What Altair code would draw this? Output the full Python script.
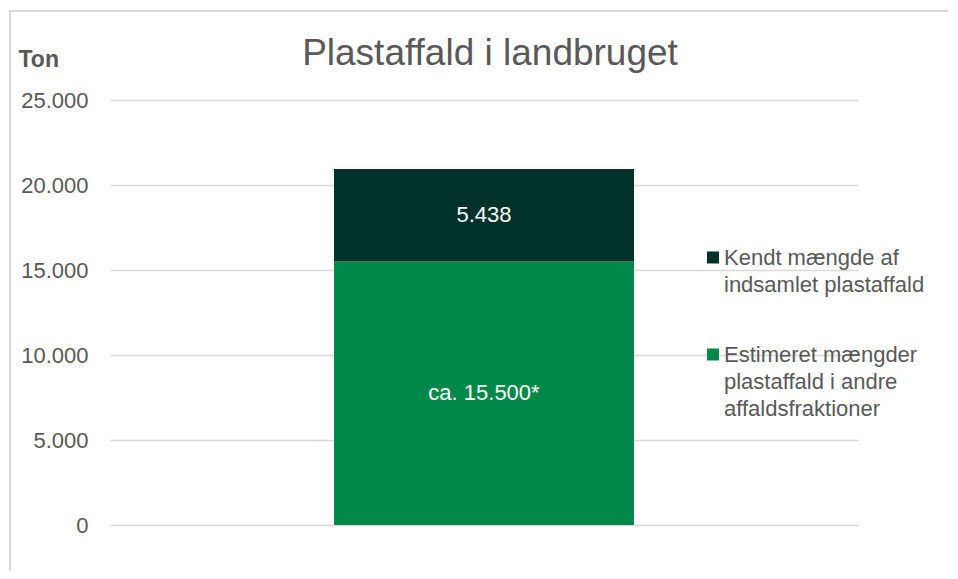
import altair as alt
import pandas as pd

# --- data ---
kategori = ["Landbrug", "Landbrug"]
serier = [
    "Estimeret mængder\nplastaffald i andre\naffaldsfraktioner",
    "Kendt mængde af\nindsamlet plastaffald",
]
ton = [15500, 5438]
etiketter = ["ca. 15.500*", "5.438"]
raekkefolge = [0, 1]
y_ticks = [0, 5000, 10000, 15000, 20000, 25000]
legend_order = [serier[1], serier[0]]
legend_colors = ["#00322A", "#00884A"]

FONT = "Liberation Sans"
GREY = "#595959"

df = pd.DataFrame({
    "kategori": kategori,
    "serie": serier,
    "ton": ton,
    "etiket": etiketter,
    "orden": raekkefolge,
})

y_axis = alt.Axis(
    values=y_ticks,
    labelExpr="replace(format(datum.value, ','), ',', '.')",
    title="Ton",
    titleAngle=0,
    titleAlign="left",
    titleBaseline="alphabetic",
    titleX=-92,
    titleY=-34,
    titleFont=FONT,
    titleFontWeight="bold",
    titleFontSize=23,
    titleColor=GREY,
    labelFont=FONT,
    labelFontSize=22,
    labelColor=GREY,
    labelPadding=22,
    ticks=False,
    tickSize=0,
    domain=False,
    gridColor="#d9d9d9",
    gridWidth=1.5,
)

y_scale = alt.Scale(domain=[0, 25000])

frame = alt.Chart(pd.DataFrame({"f": [0]})).mark_rect(
    fillOpacity=0, stroke="#d9d9d9", strokeWidth=2, clip=False
).encode(
    x=alt.value(-100), x2=alt.value(860), y=alt.value(-89), y2=alt.value(490)
)

base = alt.Chart(df)

bars = base.mark_bar(size=300).encode(
    x=alt.X("kategori:N", axis=None, scale=alt.Scale(paddingInner=0, paddingOuter=0)),
    y=alt.Y("ton:Q", stack="zero", scale=y_scale, axis=y_axis),
    color=alt.Color(
        "serie:N",
        scale=alt.Scale(domain=legend_order, range=legend_colors),
        legend=alt.Legend(
            title=None,
            orient="none",
            legendX=592,
            legendY=137,
            labelExpr="split(datum.label, '\\n')",
            labelFont=FONT,
            labelFontSize=22,
            labelColor=GREY,
            labelBaseline="top",
            labelLimit=400,
            labelOffset=0,
            symbolType="M-1,0.58H1V2.58H-1Z",
            symbolSize=144,
            symbolStrokeWidth=0,
            symbolOpacity=1,
            rowPadding=38,
            padding=0,
        ),
    ),
    order=alt.Order("orden:Q"),
)

text = base.transform_stack(
    stack="ton",
    groupby=["kategori"],
    sort=[alt.SortField("orden")],
    as_=["y0", "y1"],
).transform_calculate(
    mid="(datum.y0 + datum.y1) / 2"
).mark_text(
    color="white", font=FONT, fontSize=22, baseline="middle"
).encode(
    x=alt.X("kategori:N"),
    y=alt.Y("mid:Q", scale=y_scale, title="Ton"),
    text=alt.Text("etiket:N"),
)

chart = alt.layer(frame, bars, text).properties(
    width=748,
    height=425,
    autosize=alt.AutoSizeParams(type="none"),
    padding={"left": 102, "top": 92, "right": 90, "bottom": 46},
    title=alt.Title(
        "Plastaffald i landbruget",
        font=FONT,
        fontSize=37,
        fontWeight="normal",
        color=GREY,
        anchor="middle",
        frame="group",
        baseline="alphabetic",
        dx=6,
        dy=96,
    ),
).configure(
    style={"guide-label": {"lineHeight": 27}},
    view=alt.ViewConfig(strokeWidth=0),
)

chart.save("out.html", embed_options={"renderer": "svg", "actions": False})
